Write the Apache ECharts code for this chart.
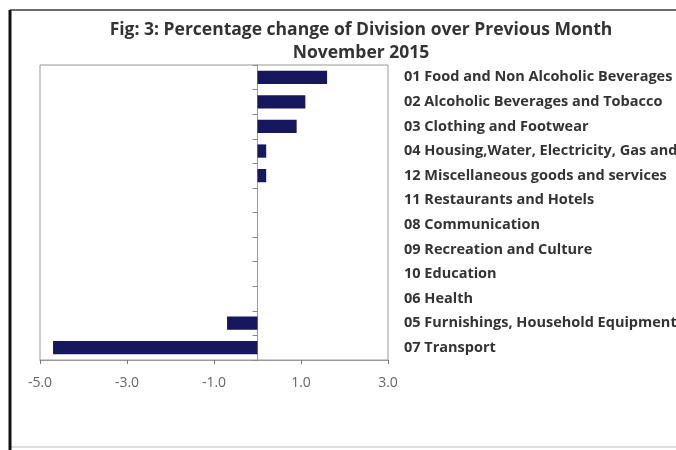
<!DOCTYPE html>
<html><head><meta charset="utf-8">
<script src="https://cdn.jsdelivr.net/npm/echarts@6/dist/echarts.min.js"></script>
<style>html,body{margin:0;padding:0;background:#fff}#c{width:676px;height:450px}</style>
</head><body><div id="c"></div>
<script>
var titleLine1 = 'Fig: 3: Percentage change of Division over Previous Month';
var titleLine2 = 'November 2015';
var categories = [
  '01 Food and Non Alcoholic Beverages',
  '02 Alcoholic Beverages and Tobacco',
  '03 Clothing and Footwear',
  '04 Housing,Water, Electricity, Gas and Other Fuels',
  '12 Miscellaneous goods and services',
  '11 Restaurants and Hotels',
  '08 Communication',
  '09 Recreation and Culture',
  '10 Education',
  '06 Health',
  '05 Furnishings, Household Equipment and Routine Maintenance',
  '07 Transport'
];
var values = [1.6, 1.1, 0.9, 0.2, 0.2, 0, 0, 0, 0, 0, -0.7, -4.7];
var xMin = -5, xMax = 3, xStep = 2;

var font = '"Open Sans", Lato, sans-serif';
var chart = echarts.init(document.getElementById('c'), null, {renderer: 'canvas'});
chart.setOption({
  animation: false,
  backgroundColor: '#fff',
  graphic: [
    {type: 'rect', shape: {x: 10, y: 10, width: 700, height: 437}, style: {fill: 'none', stroke: '#bbb', lineWidth: 1}, z: -1},
    {type: 'line', shape: {x1: 10, y1: 10, x2: 676, y2: 10}, style: {stroke: '#444', lineWidth: 1.5}},
    {type: 'line', shape: {x1: 10, y1: 10, x2: 10, y2: 450}, style: {stroke: '#111', lineWidth: 3}}
  ],
  title: [
    {text: titleLine1, left: 356, top: 16, textAlign: 'center',
     textStyle: {fontFamily: font, fontSize: 17.5, fontWeight: 'bold', color: '#333'}},
    {text: titleLine2, left: 356, top: 39, textAlign: 'center',
     textStyle: {fontFamily: font, fontSize: 17.5, fontWeight: 'bold', color: '#333'}}
  ],
  grid: {left: 40, right: 288, top: 65, bottom: 90, show: true, borderColor: '#999', borderWidth: 1,
         backgroundColor: '#fff', containLabel: false, outerBoundsMode: 'none'},
  xAxis: {
    type: 'value', min: xMin, max: xMax, interval: xStep,
    splitLine: {show: false},
    axisLine: {show: true, onZero: false, lineStyle: {color: '#999'}},
    axisTick: {show: true, length: 4, lineStyle: {color: '#777'}},
    axisLabel: {formatter: function (v) { return v.toFixed(1); }, fontFamily: font, fontSize: 14, color: '#666', margin: 16}
  },
  yAxis: [
    {
      type: 'category', data: categories, inverse: true, position: 'right',
      axisLine: {show: false, onZero: false}, axisTick: {show: false},
      axisLabel: {fontFamily: font, fontSize: 14.5, fontWeight: 'bold', color: '#333', margin: 16}
    },
    {
      type: 'category', data: categories, inverse: true, position: 'left',
      axisLine: {show: true, onZero: true, lineStyle: {color: '#999'}},
      axisTick: {show: true, inside: false, length: 5, lineStyle: {color: '#888'}},
      axisLabel: {show: false}
    }
  ],
  series: [{
    type: 'bar', data: values, yAxisIndex: 0, barWidth: '54%',
    itemStyle: {color: '#17175e'}
  }]
});
</script></body></html>
